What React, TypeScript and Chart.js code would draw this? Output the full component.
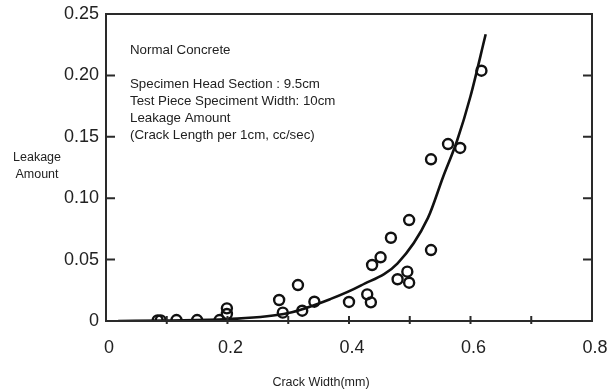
import React, { useEffect, useRef } from 'react';
import { Chart, registerables } from 'chart.js';

Chart.register(...registerables);

// Measured specimens: crack width (mm) vs leakage amount
const pointX = [0.085, 0.09, 0.116, 0.15, 0.187, 0.199, 0.199, 0.285, 0.291, 0.316, 0.323, 0.343, 0.4, 0.43, 0.436, 0.438, 0.452, 0.469, 0.48, 0.496, 0.499, 0.499, 0.535, 0.535, 0.563, 0.583, 0.618];
const pointY = [0.0005, 0.0005, 0.0008, 0.0008, 0.0008, 0.0103, 0.0057, 0.0171, 0.0068, 0.0293, 0.0084, 0.0157, 0.0155, 0.0217, 0.0152, 0.0456, 0.0519, 0.0678, 0.034, 0.0402, 0.0312, 0.0822, 0.0578, 0.1317, 0.1441, 0.1409, 0.2038];

// Fitted curve
const curveX = [0.02, 0.1, 0.2, 0.3, 0.37, 0.42, 0.48, 0.53, 0.555, 0.578, 0.6, 0.625];
const curveY = [0.0, 0.0004, 0.0015, 0.0065, 0.018, 0.029, 0.047, 0.084, 0.1175, 0.147, 0.183, 0.2335];

const xTickValues = [0, 0.1, 0.2, 0.3, 0.4, 0.5, 0.6, 0.7, 0.8];
const xTickLabels = ['0', '', '0.2', '', '0.4', '', '0.6', '', '0.8'];
const yTickValues = [0, 0.05, 0.1, 0.15, 0.2, 0.25];
const yTickLabels = ['0', '0.05', '0.10', '0.15', '0.20', '0.25'];

const noteLines = [
  'Normal Concrete',
  '',
  'Specimen Head Section : 9.5cm',
  'Test Piece Speciment Width: 10cm',
  'Leakage Amount',
  '(Crack Length per 1cm, cc/sec)',
];
const xTitle = 'Crack Width(mm)';
const yTitleLines = ['Leakage', 'Amount'];

const FONT = '"Liberation Sans", Arial, sans-serif';
const INK = '#222';

const decorPlugin = {
  id: 'decor',
  afterDraw(chart: any) {
    const { ctx, chartArea: a, scales } = chart;
    const xs = scales.x;
    const ys = scales.y;
    ctx.save();
    // frame
    ctx.strokeStyle = '#2a2a2a';
    ctx.lineWidth = 2;
    ctx.strokeRect(a.left, a.top, a.right - a.left, a.bottom - a.top);
    // x ticks (crossing bottom axis)
    xTickValues.forEach((v) => {
      if (v <= 0 || v >= 0.8) return;
      const px = xs.getPixelForValue(v);
      ctx.beginPath();
      ctx.moveTo(px, a.bottom - 5);
      ctx.lineTo(px, a.bottom + 3);
      ctx.stroke();
    });
    // y ticks, inward on both sides
    yTickValues.forEach((v) => {
      if (v <= 0 || v >= 0.25) return;
      const py = ys.getPixelForValue(v);
      ctx.beginPath();
      ctx.moveTo(a.left, py);
      ctx.lineTo(a.left + 9, py);
      ctx.moveTo(a.right, py);
      ctx.lineTo(a.right - 9, py);
      ctx.stroke();
    });
    // notes
    ctx.fillStyle = INK;
    ctx.font = '13.3px ' + FONT;
    ctx.textAlign = 'left';
    ctx.textBaseline = 'alphabetic';
    noteLines.forEach((t, i) => {
      if (t) ctx.fillText(t, 130, 54 + i * 17);
    });
    // y title
    ctx.font = '12.5px ' + FONT;
    ctx.textAlign = 'center';
    yTitleLines.forEach((t, i) => {
      ctx.fillText(t, 37, 161 + i * 17);
    });
    // x title
    ctx.fillText(xTitle, 321, 386);
    ctx.restore();
  },
};

export default function App() {
  const ref = useRef<HTMLCanvasElement | null>(null);
  useEffect(() => {
    if (!ref.current) return;
    const chart = new Chart(ref.current, {
      type: 'scatter',
      data: {
        datasets: [
          {
            type: 'line',
            label: 'curve',
            data: curveX.map((x, i) => ({ x, y: curveY[i] })),
            borderColor: '#111',
            borderWidth: 2.6,
            pointRadius: 0,
            fill: false,
            cubicInterpolationMode: 'monotone',
          } as any,
          {
            label: 'specimens',
            data: pointX.map((x, i) => ({ x, y: pointY[i] })),
            pointRadius: 5,
            pointBorderWidth: 2.4,
            borderColor: '#111',
            backgroundColor: 'rgba(255,255,255,0)',
          },
        ],
      },
      options: {
        responsive: false,
        animation: false,
        layout: { padding: { top: 14, right: 23, left: 0, bottom: 0 } },
        plugins: { legend: { display: false }, tooltip: { enabled: false } },
        scales: {
          x: {
            type: 'linear',
            min: 0,
            max: 0.8,
            afterBuildTicks: (s: any) => {
              s.ticks = xTickValues.map((v) => ({ value: v }));
            },
            afterFit: (s: any) => {
              s.height = 71;
              s.paddingLeft = 0;
              s.paddingRight = 0;
            },
            grid: { display: false, drawTicks: false },
            border: { display: false },
            ticks: {
              padding: 16,
              labelOffset: 3,
              color: INK,
              font: { family: FONT, size: 18 },
              maxRotation: 0,
              autoSkip: false,
              callback: (_v: any, i: number) => xTickLabels[i],
            },
          },
          y: {
            type: 'linear',
            min: 0,
            max: 0.25,
            afterBuildTicks: (s: any) => {
              s.ticks = yTickValues.map((v) => ({ value: v }));
            },
            afterFit: (s: any) => {
              s.width = 106;
              s.paddingTop = 0;
              s.paddingBottom = 0;
            },
            grid: { display: false, drawTicks: false },
            border: { display: false },
            ticks: {
              padding: 7,
              color: INK,
              font: { family: FONT, size: 18 },
              autoSkip: false,
              callback: (_v: any, i: number) => yTickLabels[i],
            },
          },
        },
      },
      plugins: [decorPlugin],
    });
    return () => chart.destroy();
  }, []);
  return (
    <div style={{ position: 'fixed', left: 0, top: 0, width: 615, height: 392, background: '#fff' }}>
      <canvas ref={ref} width={615} height={392} style={{ display: 'block' }} />
    </div>
  );
}
